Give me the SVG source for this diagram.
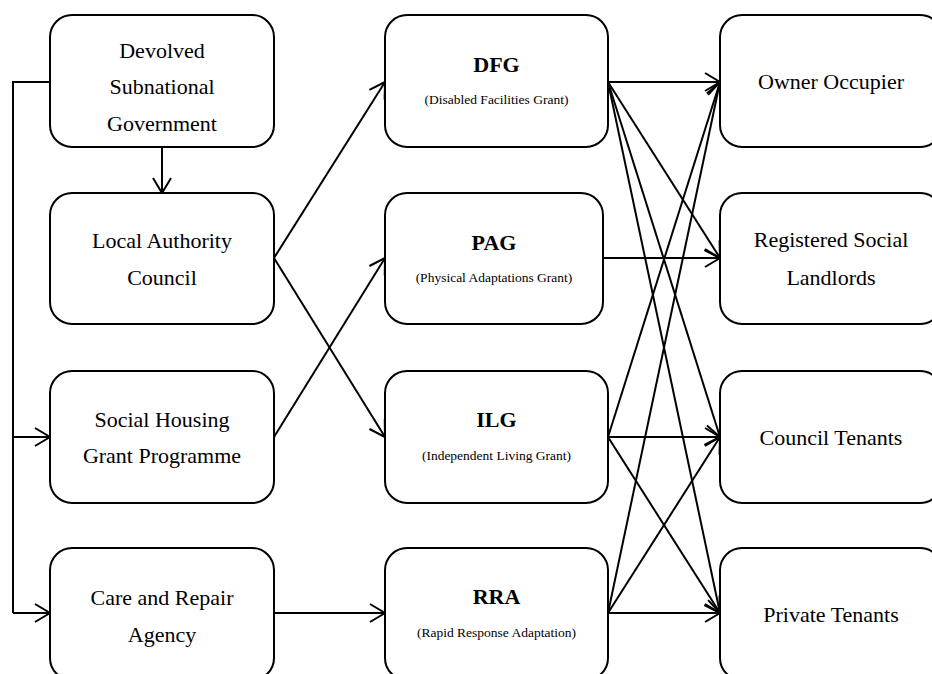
<svg xmlns="http://www.w3.org/2000/svg" width="932" height="674" viewBox="0 0 932 674">
<style>
.box{fill:#fff;stroke:#000;stroke-width:2}
.t{font-family:"Liberation Serif","Times New Roman",serif;font-size:22px;fill:#000;text-anchor:middle}
.b{font-family:"Liberation Serif","Times New Roman",serif;font-size:22px;font-weight:bold;fill:#000;text-anchor:middle}
.s{font-family:"Liberation Serif","Times New Roman",serif;font-size:13.5px;fill:#000;text-anchor:middle}
.c{fill:none;stroke:#000;stroke-width:2}
.a{marker-end:url(#arr)}
</style>
<defs>
<marker id="arr" markerUnits="userSpaceOnUse" markerWidth="20" markerHeight="22" refX="16" refY="10" orient="auto">
<path d="M1,1 L16,10 L1,19" fill="none" stroke="#000" stroke-width="2"/>
</marker>
</defs>
<rect width="932" height="674" fill="#fff"/>
<g id="connectors">
<path class="c a" d="M162,147 L162,193"/>
<path class="c" d="M50,82 L13,82 L13,613"/>
<path class="c a" d="M13,437 L50,437"/>
<path class="c a" d="M13,613 L50,613"/>
<path class="c a" d="M274,258 L385,82"/>
<path class="c a" d="M274,258 L385,437"/>
<path class="c a" d="M274,437 L385,258"/>
<path class="c a" d="M274,613 L385,613"/>
<path class="c a" d="M608,82 L720,82"/>
<path class="c a" d="M608,82 L720,258"/>
<path class="c a" d="M608,82 L720,437"/>
<path class="c a" d="M608,82 L720,613"/>
<path class="c a" d="M603,258 L720,258"/>
<path class="c a" d="M608,437 L720,82"/>
<path class="c a" d="M608,437 L720,437"/>
<path class="c a" d="M608,437 L720,613"/>
<path class="c a" d="M608,613 L720,82"/>
<path class="c a" d="M608,613 L720,437"/>
<path class="c a" d="M608,613 L720,613"/>
</g>
<g id="devolved">
<rect class="box" x="50" y="15" width="224" height="132" rx="22"/>
<text class="t" x="162" y="58">Devolved</text>
<text class="t" x="162" y="94">Subnational</text>
<text class="t" x="162" y="131">Government</text>
</g>
<g id="local">
<rect class="box" x="50" y="193" width="224" height="131" rx="22"/>
<text class="t" x="162" y="248">Local Authority</text>
<text class="t" x="162" y="285">Council</text>
</g>
<g id="social">
<rect class="box" x="50" y="371" width="224" height="132" rx="22"/>
<text class="t" x="162" y="427">Social Housing</text>
<text class="t" x="162" y="463">Grant Programme</text>
</g>
<g id="care">
<rect class="box" x="50" y="548" width="224" height="132" rx="22"/>
<text class="t" x="162" y="605">Care and Repair</text>
<text class="t" x="162" y="642">Agency</text>
</g>
<g id="dfg">
<rect class="box" x="385" y="15" width="223" height="132" rx="22"/>
<text class="b" x="496.5" y="72">DFG</text>
<text class="s" x="496.5" y="104">(Disabled Facilities Grant)</text>
</g>
<g id="pag">
<rect class="box" x="385" y="193" width="218" height="131" rx="22"/>
<text class="b" x="494" y="250">PAG</text>
<text class="s" x="494" y="282">(Physical Adaptations Grant)</text>
</g>
<g id="ilg">
<rect class="box" x="385" y="371" width="223" height="132" rx="22"/>
<text class="b" x="496.5" y="427">ILG</text>
<text class="s" x="496.5" y="460">(Independent Living Grant)</text>
</g>
<g id="rra">
<rect class="box" x="385" y="548" width="223" height="132" rx="22"/>
<text class="b" x="496.5" y="604">RRA</text>
<text class="s" x="496.5" y="637">(Rapid Response Adaptation)</text>
</g>
<g id="owner">
<rect class="box" x="720" y="15" width="222" height="132" rx="22"/>
<text class="t" x="831" y="89">Owner Occupier</text>
</g>
<g id="rsl">
<rect class="box" x="720" y="193" width="222" height="131" rx="22"/>
<text class="t" x="831" y="247">Registered Social</text>
<text class="t" x="831" y="285">Landlords</text>
</g>
<g id="council">
<rect class="box" x="720" y="371" width="222" height="132" rx="22"/>
<text class="t" x="831" y="445">Council Tenants</text>
</g>
<g id="private">
<rect class="box" x="720" y="548" width="222" height="132" rx="22"/>
<text class="t" x="831" y="622">Private Tenants</text>
</g>
</svg>
